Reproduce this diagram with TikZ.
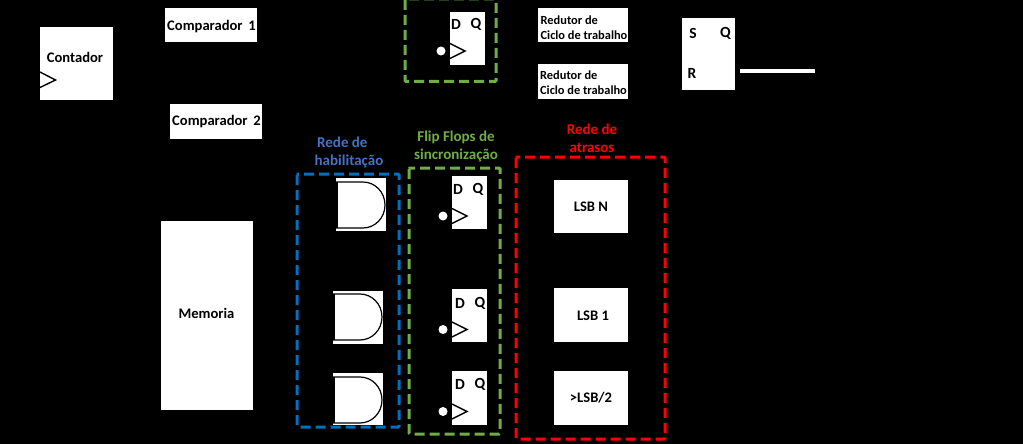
\documentclass[tikz,border=0pt]{standalone}
\usepackage{fontspec}
\setmainfont{Carlito}
\definecolor{habblue}{HTML}{0070C0}
\definecolor{habtext}{HTML}{4472C4}
\definecolor{syncgreen}{HTML}{70AD47}
\definecolor{delayred}{HTML}{FF0000}
\tikzset{
  whitebox/.style={fill=white,draw=none,inner sep=0pt,outer sep=0pt,text=black,font=\bfseries\fontsize{14.6}{16}\selectfont,align=center},
  lbl/.style={inner sep=0pt,outer sep=0pt,text=black,font=\bfseries\fontsize{14.6}{16}\selectfont},
  bitlbl/.style={inner sep=0pt,outer sep=0pt,text=black,font=\bfseries\fontsize{15.5}{16}\selectfont},
  smalllbl/.style={inner sep=0pt,outer sep=0pt,text=black,align=left,font=\bfseries\fontsize{12.4}{15}\selectfont},
  grouplbl/.style={inner sep=0pt,outer sep=0pt,align=center,font=\bfseries\fontsize{15}{18}\selectfont},
  groupframe/.style={line width=3pt,dash pattern=on 10pt off 5pt,rounded corners=1pt},
  clocktip/.style={draw=black,line width=1.4pt,line join=miter},
  bubble/.style={circle,fill=white,draw=none,minimum size=9pt,inner sep=0pt},
  andbody/.style={draw=black,line width=1.2pt},
}
% Box given by its corners in pixels: name, x0, y0, x1, y1
\newcommand{\pxbox}[5]{%
  \node[whitebox,minimum width={(#4-#2)*1pt},minimum height={(#5-#3)*1pt}] (#1) at ({(#2+#4)/2},{(#3+#5)/2}) {};}
% Edge-triggered flip-flop: plate, letters, clock wedge and inversion bubble
% name, x0, y0, x1, y1, letter x, letter y, clock y
\newcommand{\dff}[8]{%
  \pxbox{#1}{#2}{#3}{#4}{#5}%
  \node[bitlbl] (#1d) at (#6,#7) {D};
  \node[bitlbl] (#1q) at (#6+20,#7) {Q};
  \draw[clocktip] ({#2},{#8-7.5}) -- ({#2+15},#8) -- ({#2},{#8+7.5});
  \node[bubble] (#1b) at ({#2-9},#8) {};
}
\begin{document}
\begin{tikzpicture}[x=1pt,y=-1pt]
  \useasboundingbox (0,0) rectangle (1023,444);
  \fill[black] (0,0) rectangle (1023,444);

  % Counter and comparators
  \pxbox{contador}{40}{27}{113}{100}
  \node[lbl] (contadortxt) at (75,57.5) {Contador};
  \draw[clocktip] (40,72) -- (55.5,80) -- (40,87.5);
  \pxbox{comp1}{165}{8}{257}{42}
  \node[lbl] (comp1txt) at (211.5,26.5) {Comparador\, 1};
  \pxbox{comp2}{170}{104}{262}{139}
  \node[lbl] (comp2txt) at (216.5,122) {Comparador\, 2};
  \pxbox{memoria}{161}{221}{253}{410}
  \node[lbl] (memoriatxt) at (206.5,313) {Memoria};

  % Upper synchronising flip-flop
  \draw[groupframe,syncgreen] (405,-1) rectangle (496,81.5);
  \dff{fftop}{450}{12}{485}{65}{456}{24}{51}

  % Duty-cycle reducers
  \pxbox{redone}{538}{8}{628}{42}
  \node[smalllbl] (redonetxt) at (584,27.5) {Redutor de\\Ciclo de trabalho};
  \pxbox{redtwo}{538}{64}{628}{99}
  \node[smalllbl] (redtwotxt) at (583.5,83) {Redutor de\\Ciclo de trabalho};

  % Output latch
  \pxbox{sr}{682}{18}{735}{90}
  \node[bitlbl] (srs) at (693,33.5) {S};
  \node[bitlbl] (srq) at (725.5,33.5) {Q};
  \node[bitlbl] (srr) at (692,73) {R};
  \coordinate (outa) at (740,71);
  \coordinate (outb) at (815,71);
  \draw[white,line width=3.5pt] (outa) -- (outb);

  % Enable network
  \node[grouplbl,align=left,text=habtext] (habtxt) at (349,152) {\,Rede de\\habilitação};
  \draw[groupframe,habblue] (297,174) rectangle (399,427);

  \pxbox{andone}{336}{178}{386}{231}
  \fill[black] (336,183) rectangle (337.5,227);
  \draw[andbody] (336,182) -- (363,182) arc[start angle=90,end angle=-90,x radius=22,y radius=-23] -- (336,228);
  \draw[andbody] (337,182) -- (337,228);
  \pxbox{andtwo}{333}{291}{383}{344}
  \fill[black] (333,295) rectangle (334.5,339);
  \draw[andbody] (333,294) -- (360,294) arc[start angle=90,end angle=-90,x radius=22,y radius=-23] -- (333,340);
  \draw[andbody] (334,294) -- (334,340);
  \pxbox{andthree}{333}{373}{383}{425}
  \fill[black] (333,378) rectangle (334.5,422);
  \draw[andbody] (333,377) -- (360,377) arc[start angle=90,end angle=-90,x radius=22,y radius=-23] -- (333,423);
  \draw[andbody] (334,377) -- (334,423);

  % Synchronising flip-flops
  \node[grouplbl,text=syncgreen] (synctxt) at (456,146) {Flip Flops de\\sincronização};
  \draw[groupframe,syncgreen] (409,168) rectangle (500,434);
  \dff{ffa}{452}{176}{487}{229}{458}{189}{216}
  \dff{ffb}{452}{289}{487}{342}{460}{303}{329.5}
  \dff{ffc}{452}{371}{487}{425}{460}{384}{411.5}

  % Delay network
  \node[grouplbl,text=delayred] (delaytxt) at (592,138) {Rede de\\atrasos};
  \draw[groupframe,delayred] (516,157) rectangle (665,439);
  \pxbox{lsbn}{554}{180}{628}{233}
  \node[lbl] (lsbntxt) at (591,207) {LSB N};
  \pxbox{lsbone}{554}{288}{628}{342}
  \node[lbl] (lsbonetxt) at (593,316) {LSB 1};
  \pxbox{lsbhalf}{554}{371}{628}{425}
  \node[lbl] (lsbhalftxt) at (591,398) {>LSB/2};
\end{tikzpicture}
\end{document}
